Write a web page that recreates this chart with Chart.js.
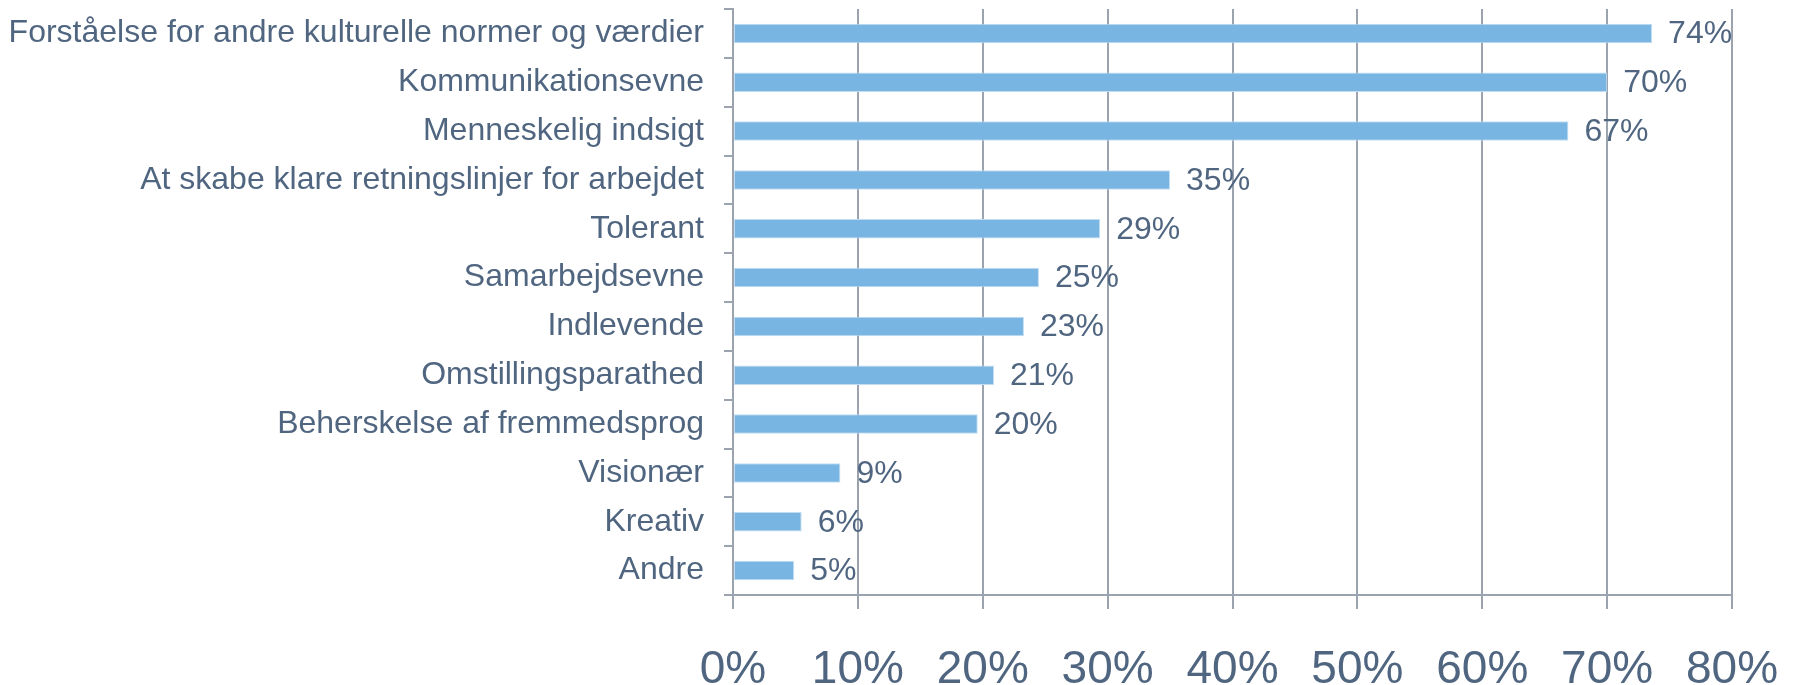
<!DOCTYPE html>
<html>
<head>
<meta charset="utf-8">
<script src="https://cdn.jsdelivr.net/npm/chart.js@4"></script>
<style>
  body { margin: 0; background: #fff; }
  #wrap { width: 1796px; height: 685px; position: relative; }
</style>
</head>
<body>
<div id="wrap"><canvas id="chart"></canvas></div>
<script>
// data
const categories = [
    'Forståelse for andre kulturelle normer og værdier',
    'Kommunikationsevne',
    'Menneskelig indsigt',
    'At skabe klare retningslinjer for arbejdet',
    'Tolerant',
    'Samarbejdsevne',
    'Indlevende',
    'Omstillingsparathed',
    'Beherskelse af fremmedsprog',
    'Visionær',
    'Kreativ',
    'Andre'
];
const shares = [73.6, 70, 66.9, 35, 29.4, 24.5, 23.3, 20.9, 19.6, 8.6, 5.5, 4.9];
const xTicks = [0, 10, 20, 30, 40, 50, 60, 70, 80];

const textColor = '#506680';
const gridColor = '#9aa3ae';
const fontFamily = '"Liberation Sans", Arial, sans-serif';

// value labels to the right of each bar
const barLabels = {
    id: 'barLabels',
    afterDatasetsDraw(chart) {
        const ctx = chart.ctx;
        const meta = chart.getDatasetMeta(0);
        ctx.save();
        ctx.font = '32px ' + fontFamily;
        ctx.fillStyle = textColor;
        ctx.textAlign = 'left';
        ctx.textBaseline = 'middle';
        meta.data.forEach((bar, i) => {
            ctx.fillText(Math.round(shares[i]) + '%', bar.x + 16, bar.y + 1);
        });
        ctx.restore();
    }
};

new Chart(document.getElementById('chart').getContext('2d'), {
    type: 'bar',
    data: {
        labels: categories,
        datasets: [{
            data: shares,
            backgroundColor: '#78b5e2',
            borderColor: '#c2ddf2',
            borderWidth: 1,
            borderSkipped: false,
            categoryPercentage: 0.4,
            barPercentage: 1
        }]
    },
    options: {
        indexAxis: 'y',
        responsive: true,
        maintainAspectRatio: false,
        animation: false,
        layout: { padding: { top: 9, right: 64, left: 0, bottom: 0 } },
        plugins: {
            legend: { display: false },
            tooltip: { enabled: false }
        },
        scales: {
            x: {
                min: 0,
                max: 80,
                afterBuildTicks: (scale) => {
                    scale.ticks = xTicks.map(v => ({ value: v }));
                },
                afterFit: (scale) => {
                    scale.height = 90;
                    scale.paddingLeft = 0;
                    scale.paddingRight = 0;
                },
                grid: {
                    color: gridColor,
                    lineWidth: 2,
                    tickLength: 14,
                    drawOnChartArea: true
                },
                border: { color: gridColor, width: 2 },
                ticks: {
                    color: textColor,
                    font: { family: fontFamily, size: 46 },
                    padding: 34,
                    maxRotation: 0,
                    callback: (v) => v + '%'
                }
            },
            y: {
                afterFit: (scale) => {
                    scale.width = 733;
                    scale.paddingTop = 0;
                    scale.paddingBottom = 0;
                },
                grid: {
                    color: gridColor,
                    lineWidth: 2,
                    tickLength: 9,
                    drawOnChartArea: false,
                    offset: true
                },
                border: { color: gridColor, width: 2 },
                ticks: {
                    color: textColor,
                    font: { family: fontFamily, size: 32 },
                    padding: 20,
                    autoSkip: false
                }
            }
        }
    },
    plugins: [barLabels]
});
</script>
</body>
</html>
